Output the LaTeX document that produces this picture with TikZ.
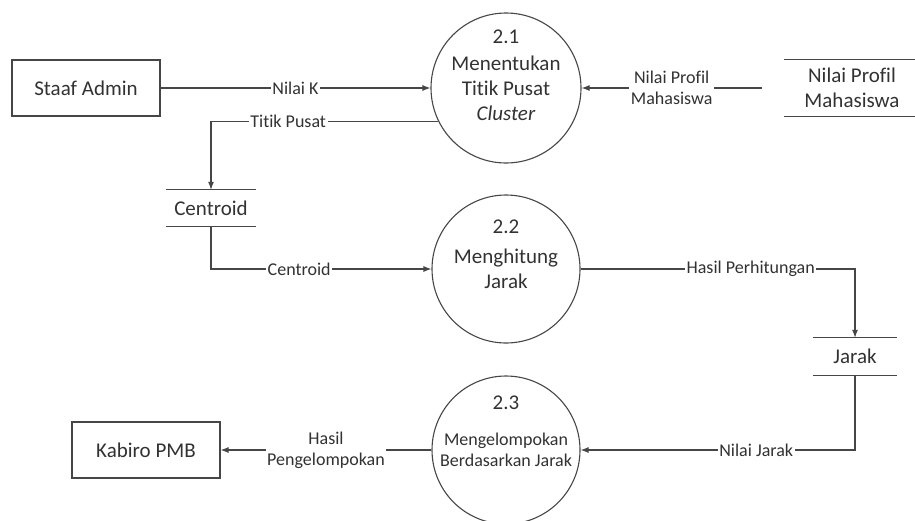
\documentclass[tikz,border=0pt]{standalone}
\usepackage{fontspec}
\setmainfont{Carlito}[RawFeature=-liga]
\usetikzlibrary{arrows.meta}
\definecolor{ln}{RGB}{70,70,70}
\definecolor{tx}{RGB}{50,50,50}
\begin{document}
\begin{tikzpicture}[x=1pt,y=-1pt,
  every node/.style={text=tx},
  big/.style={font=\fontsize{21}{25}\selectfont},
  lab/.style={font=\fontsize{18}{21}\selectfont, fill=white, inner sep=1.5pt, align=center},
  ent/.style={draw=ln, line width=1.1pt, minimum width=148pt, minimum height=56pt, big},
  proc/.style={draw=ln, line width=1.1pt, circle, minimum size=150pt, inner sep=0pt},
  store/.style={minimum height=36pt, big, align=center, inner sep=0pt},
  flow/.style={draw=ln, line width=1.1pt, -{Latex[length=8pt,width=6pt]}},
  stl/.style={draw=ln, line width=1.1pt}
]
\useasboundingbox (0,0) rectangle (915,520);
% external entities
\node[ent] (admin) at (86,88) {Staaf Admin};
\node[ent] (kab) at (146,450) {Kabiro PMB};
% processes
\node[proc] (p1) at (506,88) {};
\node[proc, minimum size=148pt] (p2) at (506,269) {};
\node[proc, minimum size=148pt] (p3) at (506,450) {};
\node[big] (p1n) at (506,37) {2.1};
\node[big, align=center] (p1t) at (506,88) {Menentukan\\Titik Pusat\\\textit{Cluster}};
\node[big] (p2n) at (506,227) {2.2};
\node[big, align=center] (p2t) at (506,269) {Menghitung\\Jarak};
\node[big] (p3n) at (506,403) {2.3};
\node[font=\fontsize{18}{21}\selectfont, align=center] (p3t) at (506,450) {Mengelompokan\\Berdasarkan Jarak};
% data stores
\node[store, minimum width=90pt] (cen) at (211,208) {Centroid};
\draw[stl] (cen.north west) -- (cen.north east) (cen.south west) -- (cen.south east);
\node[store, minimum width=84pt, minimum height=37pt] (jar) at (855,356.5) {Jarak};
\draw[stl] (jar.north west) -- (jar.north east) (jar.south west) -- (jar.south east);
\node[store, minimum width=136pt, minimum height=56pt] (npm) at (852,88) {Nilai Profil\\Mahasiswa};
\draw[stl] (npm.north west) -- (npm.north east) (npm.south west) -- (npm.south east);
\coordinate (npmin) at ([xshift=-22pt]npm.west);
% flows
\draw[flow] (admin) -- node[lab]{Nilai K} (p1);
\draw[flow] (npmin) -- node[lab]{Nilai Profil\\Mahasiswa} (p1.east);
\draw[flow] (p1.206) -| node[lab,pos=0.33]{Titik Pusat} (cen.north);
\draw[flow] (cen.south) |- node[lab,pos=0.7]{Centroid} (p2.west);
\draw[flow] (p2.east) -| node[lab,pos=0.31]{Hasil Perhitungan} (jar.north);
\draw[flow] (jar.south) |- node[lab,pos=0.68]{Nilai Jarak} (p3.east);
\draw[flow] (p3.west) -- node[lab]{Hasil\\Pengelompokan} (kab.east);
\end{tikzpicture}
\end{document}
